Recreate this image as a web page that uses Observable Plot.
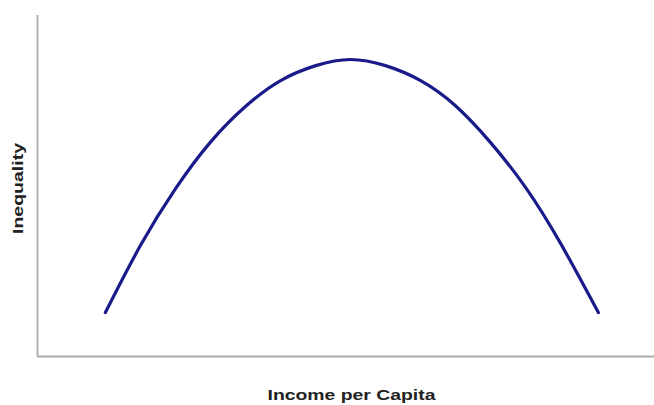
<!DOCTYPE html>
<html>
<head>
<meta charset="utf-8">
<script src="https://cdn.jsdelivr.net/npm/d3@7"></script>
<script src="https://cdn.jsdelivr.net/npm/@observablehq/plot@0.6"></script>
<style>
  html, body { margin: 0; padding: 0; background: #fff; }
  #chart svg { display: block; }
</style>
</head>
<body>
<div id="chart"></div>
<script>
// Income per capita (relative index) and inequality (relative index)
const income = [11.0, 16.7, 22.4, 28.0, 33.7, 39.4, 45.1, 50.7, 56.4, 62.1, 67.7, 73.4, 79.1, 84.8, 90.9];
const inequality = [12.9, 32.6, 49.3, 62.8, 73.3, 80.9, 85.3, 87.1, 85.3, 80.9, 73.6, 62.8, 49.6, 33.1, 12.9];
const xTitle = "Income per Capita";
const yTitle = "Inequality";

const data = income.map((x, i) => ({x, y: inequality[i]}));

const chart = Plot.plot({
  width: 654,
  height: 405,
  marginLeft: 37,
  marginRight: 0,
  marginTop: 15,
  marginBottom: 49,
  x: {domain: [0, 100], axis: null},
  y: {domain: [0, 100], axis: null},
  style: {fontFamily: "'Liberation Sans', Arial, sans-serif", background: "#fff"},
  marks: [
    Plot.ruleX([0], {stroke: "#b0b0b0", strokeWidth: 2}),
    Plot.ruleY([0], {stroke: "#aaaaaa", strokeWidth: 2}),
    Plot.line(data, {x: "x", y: "y", curve: "natural", stroke: "#1a1a8a", strokeWidth: 3.2, strokeLinecap: "round"}),
    Plot.text([yTitle], {frameAnchor: "left", rotate: -90, dx: -18.5, dy: 2.5, fontSize: 14, fontWeight: "bold", fill: "#222", lineAnchor: "middle", textAnchor: "middle"}),
    Plot.text([xTitle], {frameAnchor: "bottom", dx: 5.5, dy: 39, fontSize: 14, fontWeight: "bold", fill: "#222", lineAnchor: "middle", textAnchor: "middle"})
  ]
});
document.getElementById("chart").appendChild(chart);

// stretch titles to the lengths seen in the reference
d3.select(chart).selectAll("text").each(function() {
  const t = this.textContent;
  if (t === xTitle) { this.setAttribute("textLength", 168); this.setAttribute("lengthAdjust", "spacingAndGlyphs"); }
  if (t === yTitle) { this.setAttribute("textLength", 91); this.setAttribute("lengthAdjust", "spacingAndGlyphs"); }
});
</script>
</body>
</html>
